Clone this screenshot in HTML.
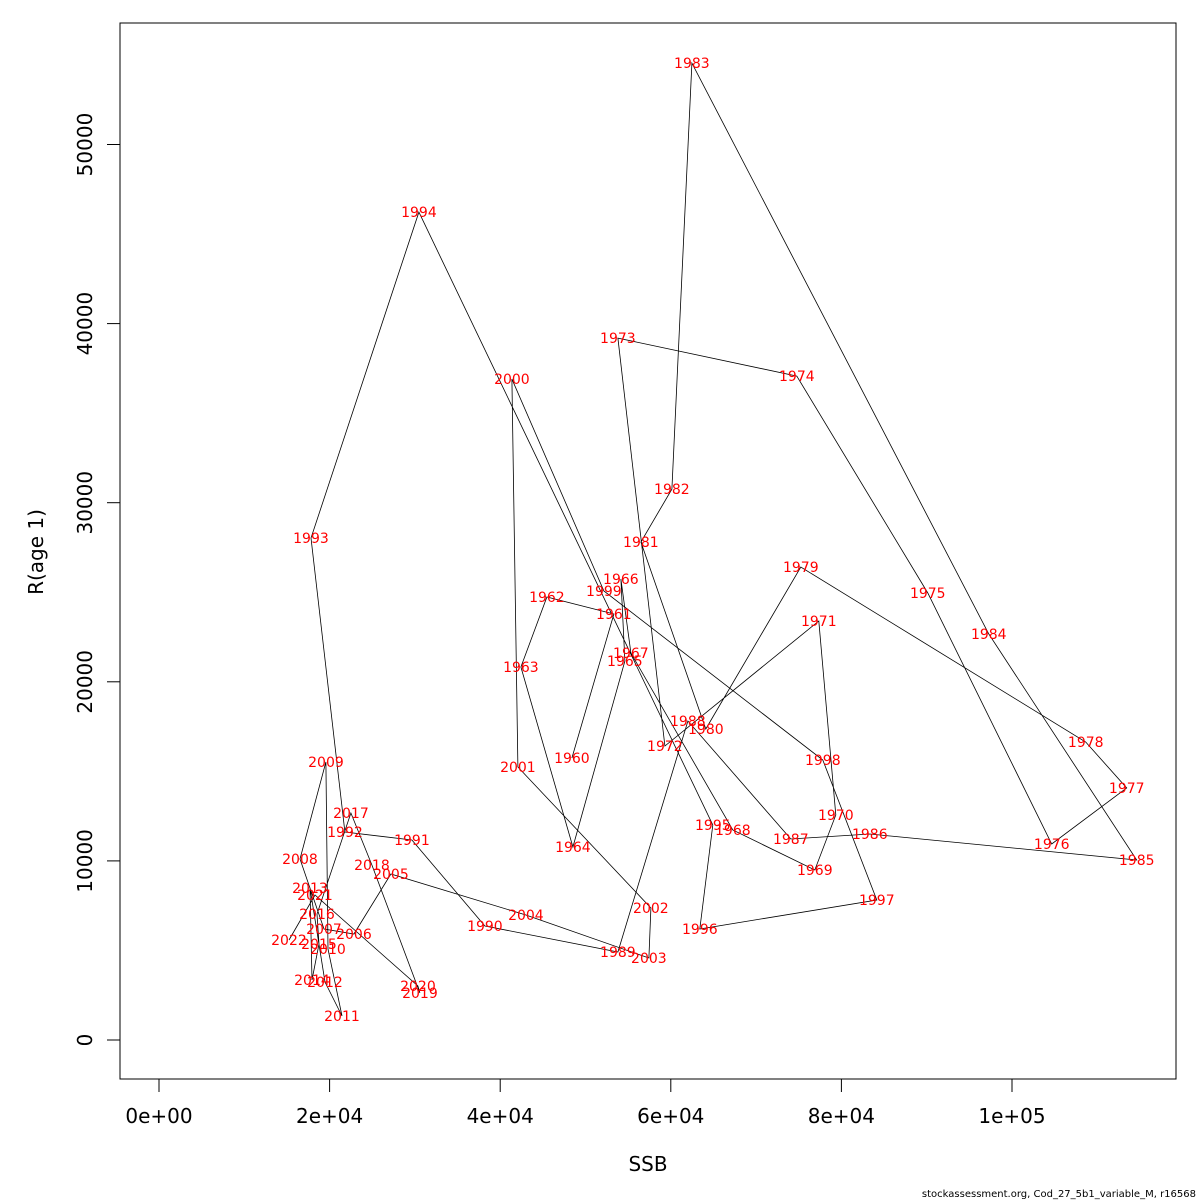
<!DOCTYPE html>
<html><head><meta charset="utf-8"><style>
body{margin:0;background:#fff}
svg{display:block;font-family:"DejaVu Sans","Liberation Sans",sans-serif}
</style></head><body>
<svg id="c" width="1200" height="1200">
<rect x="120" y="23" width="1056" height="1056" fill="none" stroke="#000"/>
<g id="ax"></g><g id="ln"></g><g id="lb"></g>
<text x="648" y="1171" font-size="20" text-anchor="middle">SSB</text>
<text x="0" y="0" font-size="20" text-anchor="middle" transform="translate(43,552) rotate(-90)">R(age 1)</text>
<text x="1196" y="1197" font-size="10" text-anchor="end">stockassessment.org, Cod_27_5b1_variable_M, r16568</text>
</svg>
<script>
const years=[1960,1961,1962,1963,1964,1965,1966,1967,1968,1969,1970,1971,1972,1973,1974,1975,1976,1977,1978,1979,1980,1981,1982,1983,1984,1985,1986,1987,1988,1989,1990,1991,1992,1993,1994,1995,1996,1997,1998,1999,2000,2001,2002,2003,2004,2005,2006,2007,2008,2009,2010,2011,2012,2013,2014,2015,2016,2017,2018,2019,2020,2021,2022];
const ssb=[48404,53326,45474,42426,48521,54615,54146,55318,67273,76883,79344,77352,59303,53795,74774,90127,104660,113450,108644,75242,64108,56490,60124,62468,97276,114622,83329,74070,61999,53795,38207,29652,21799,17814,30472,64929,63405,84150,77821,52154,41372,42075,57662,57428,43012,27190,22854,19338,16525,19572,19807,21448,19455,17697,17932,18752,18518,22502,24964,30589,30355,18283,15236];
const rec=[15744,23784,24733,20825,10775,21160,25738,21606,11724,9491,12562,23393,16414,39193,37071,24956,10943,14069,16637,26408,17363,27803,30762,54546,22667,10049,11501,11222,17810,4913,6365,11166,11613,28027,46227,12003,6197,7816,15632,25068,36904,15242,7370,4578,6979,9268,5918,6197,10105,15521,5081,1340,3238,8486,3350,5360,7035,12673,9770,2624,3015,8095,5583];
const xTicks=[0,20000,40000,60000,80000,100000];
const xTickLabels=["0e+00","2e+04","4e+04","6e+04","8e+04","1e+05"];
const yTicks=[0,10000,20000,30000,40000,50000];
const NS="http://www.w3.org/2000/svg";
const X=v=>159+v*170.6/20000, Y=v=>1040-v*179.1/10000;
function mk(t,a,p){const e=document.createElementNS(NS,t);for(const k in a)e.setAttribute(k,a[k]);p.appendChild(e);return e;}
const ax=document.getElementById('ax');
xTicks.forEach((v,i)=>{
 const l=mk('line',{x1:X(v),x2:X(v),y1:1079,y2:1092,stroke:'#000'},ax);
 
 
 const t=mk('text',{x:X(v),y:1123,'font-size':20,'text-anchor':'middle'},ax);t.textContent=xTickLabels[i];
 
 
});
yTicks.forEach(v=>{
 const l=mk('line',{x1:107,x2:120,y1:Y(v),y2:Y(v),stroke:'#000'},ax);
 
 
 const t=mk('text',{x:0,y:0,'font-size':20,'text-anchor':'middle',transform:`translate(92,${Y(v)}) rotate(-90)`},ax);t.textContent=String(v);
 
 
});
const pts=ssb.map((s,i)=>X(s).toFixed(1)+','+Y(rec[i]).toFixed(1)).join(' ');
const pl=mk('polyline',{points:pts,fill:'none',stroke:'#000','stroke-width':0.8},document.getElementById('ln'));


const lb=document.getElementById('lb');
years.forEach((y,i)=>{
 const t=mk('text',{x:X(ssb[i]),y:Y(rec[i])+5,'font-size':14,fill:'#f00','text-anchor':'middle'},lb);
 t.textContent=String(y);
 
 
});
</script>
</body></html>
